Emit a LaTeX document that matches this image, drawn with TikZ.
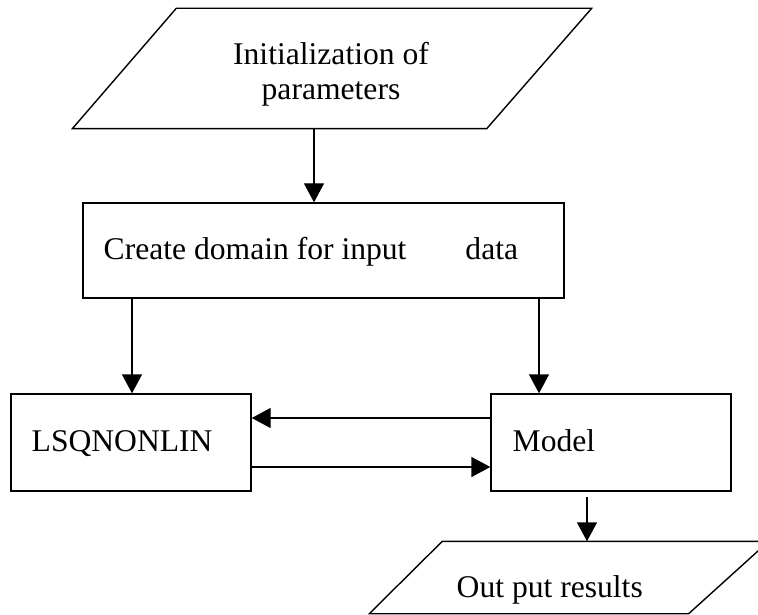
\documentclass[tikz,border=0pt]{standalone}
\usepackage{fontspec}
\setmainfont{Liberation Serif}
\usetikzlibrary{arrows.meta}
\begin{document}
\begin{tikzpicture}[x=1pt,y=-1pt,
  line width=1.4pt,
  txt/.style={font=\fontsize{31.6}{35}\selectfont, inner sep=0pt},
  frame/.style={draw, rectangle, inner sep=0pt, minimum width=#1},
  ghost/.style={draw=none, rectangle, inner sep=0pt, minimum width=#1},
  arr/.style={-{Triangle[length=19pt,width=20pt]}}]
\useasboundingbox (0,0) rectangle (758,615);
% column / row coordinates
\coordinate (xa) at (314,0);
\coordinate (xb) at (132,0);
\coordinate (xc) at (539,0);
\coordinate (yu) at (0,418);
\coordinate (yl) at (0,467);
\coordinate (mout) at (587,497);
% input parallelogram
\node[ghost=518pt, minimum height=119pt] (init) at (332,68.5) {};
\draw ([xshift=104pt]init.north west) -- (init.north east)
  -- ([xshift=-105pt]init.south east) -- (init.south west) -- cycle;
\node[txt, align=center, anchor=base] (inittxt) at (331,100) {Initialization of\\parameters};
% boxes
\node[frame=481pt, minimum height=95pt] (create) at (323.5,250.5) {};
\node[txt, anchor=base west] (createtxt) at (103,259) {Create domain for input\hspace{59pt}data};
\node[frame=240pt, minimum height=97pt] (lsq) at (131,442.5) {};
\node[txt, anchor=base west] (lsqtxt) at (31,451) {LSQNONLIN};
\node[frame=240pt, minimum height=97pt] (model) at (611,442.5) {};
\node[txt, anchor=base west] (modeltxt) at (512,451) {Model};
% output parallelogram
\node[ghost=398pt, minimum height=71pt] (out) at (569,577.5) {};
\begin{scope}
\clip (0,0) rectangle (758,615);
\draw ([xshift=73pt]out.north west) -- (out.north east)
  -- ([xshift=-80pt]out.south east) -- (out.south west) -- cycle;
\end{scope}
\node[txt, anchor=base west] (outtxt) at (456,597) {Out put results};
% connectors
\draw[arr] (init.south -| xa) -- (create.north -| xa);
\draw[arr] (create.south -| xb) -- (lsq.north -| xb);
\draw[arr] (create.south -| xc) -- (model.north -| xc);
\draw[arr] (model.west |- yu) -- (lsq.east |- yu);
\draw[arr] (lsq.east |- yl) -- (model.west |- yl);
\draw[arr] (mout) -- (out.north -| mout);
\end{tikzpicture}
\end{document}
